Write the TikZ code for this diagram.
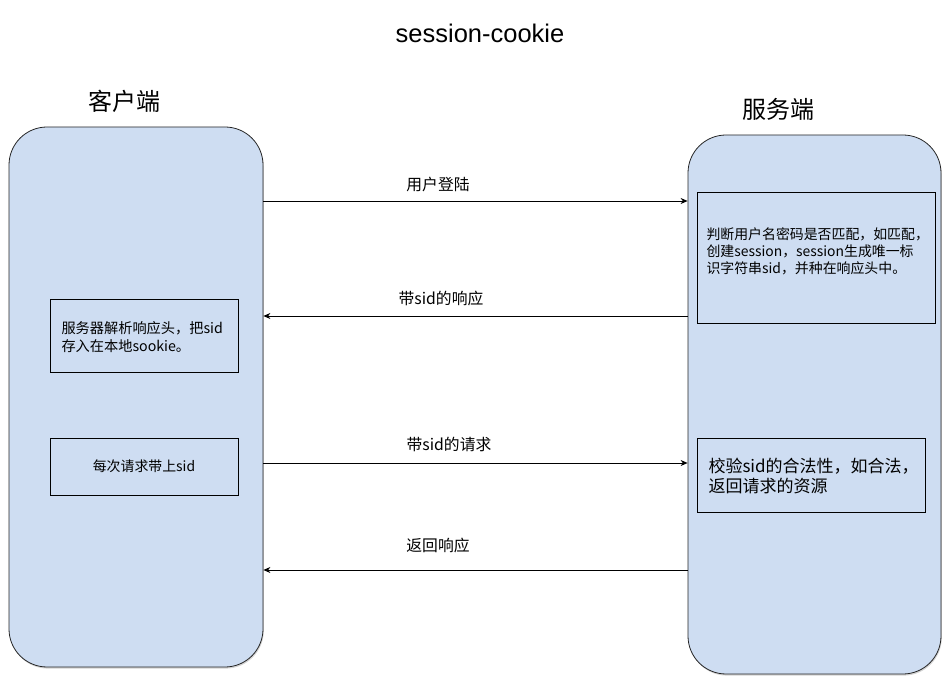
\documentclass[tikz,border=0pt]{standalone}
\usepackage{fontspec}
\setmainfont{Noto Sans CJK SC}
\newfontfamily\lat{Liberation Sans}
\usetikzlibrary{arrows.meta,shadows}
\definecolor{lane}{RGB}{206,221,242}
\begin{document}
\begin{tikzpicture}[x=1pt,y=-1pt,
  lanebox/.style={draw=black!85,fill=lane,rounded corners=38pt,line width=0.8pt,
    drop shadow={opacity=0.35,shadow xshift=0.8pt,shadow yshift=-1.6pt}},
  notebox/.style={draw,fill=lane,line width=0.8pt,inner sep=0pt},
  msg/.style={line width=0.7pt,-{Stealth[length=7pt,width=6pt]}},
  lbl/.style={font=\fontsize{15.8}{17}\selectfont},
  head/.style={font=\fontsize{24}{26}\selectfont}]
\useasboundingbox (0,0) rectangle (951,700);
\node[font=\lat\fontsize{25.5}{28}\selectfont] (title) at (480,33) {session-cookie};
\node[head] (clab) at (124,101) {客户端};
\node[head] (slab) at (778,109) {服务端};
\node[lanebox,minimum width=254pt,minimum height=540pt] (client) at (136,397) {};
\node[lanebox,minimum width=253pt,minimum height=539pt] (server) at (814.5,404.5) {};
% inner boxes
\node[notebox,minimum width=238pt,minimum height=131pt] (s1) at (816,257.5) {};
\node[anchor=west,align=left,font=\fontsize{13.9}{17}\selectfont] (s1t) at (703,251)
  {判断用户名密码是否匹配，如匹配，\\创建session，session生成唯一标\\识字符串sid，并种在响应头中。};
\node[notebox,minimum width=188pt,minimum height=73pt] (c1) at (144,335.5) {};
\node[anchor=west,align=left,font=\fontsize{14.2}{18}\selectfont] (c1t) at (58,337)
  {服务器解析响应头，把sid\\存入在本地sookie。};
\node[notebox,minimum width=188pt,minimum height=57pt] (c2) at (144,466.5) {};
\node[font=\fontsize{13.9}{16}\selectfont] (c2t) at (c2.center) {每次请求带上sid};
\node[notebox,minimum width=228pt,minimum height=74pt] (s2) at (811,475) {};
\node[anchor=west,align=left,font=\fontsize{17}{20}\selectfont] (s2t) at (705,476)
  {校验sid的合法性，如合法，\\返回请求的资源};
% messages
\coordinate (m1) at (0,201);
\coordinate (m2) at (0,316);
\coordinate (m3) at (0,463);
\coordinate (m4) at (0,570);
\draw[msg] (client.east |- m1) -- (server.west |- m1);
\draw[msg] (server.west |- m2) -- (client.east |- m2);
\draw[msg] (client.east |- m3) -- (server.west |- m3);
\draw[msg] (server.west |- m4) -- (client.east |- m4);
\node[lbl] (l1) at (438,185) {用户登陆};
\node[lbl] (l2) at (441,298) {带sid的响应};
\node[lbl] (l3) at (449,444) {带sid的请求};
\node[lbl] (l4) at (438,545) {返回响应};
\end{tikzpicture}
\end{document}
